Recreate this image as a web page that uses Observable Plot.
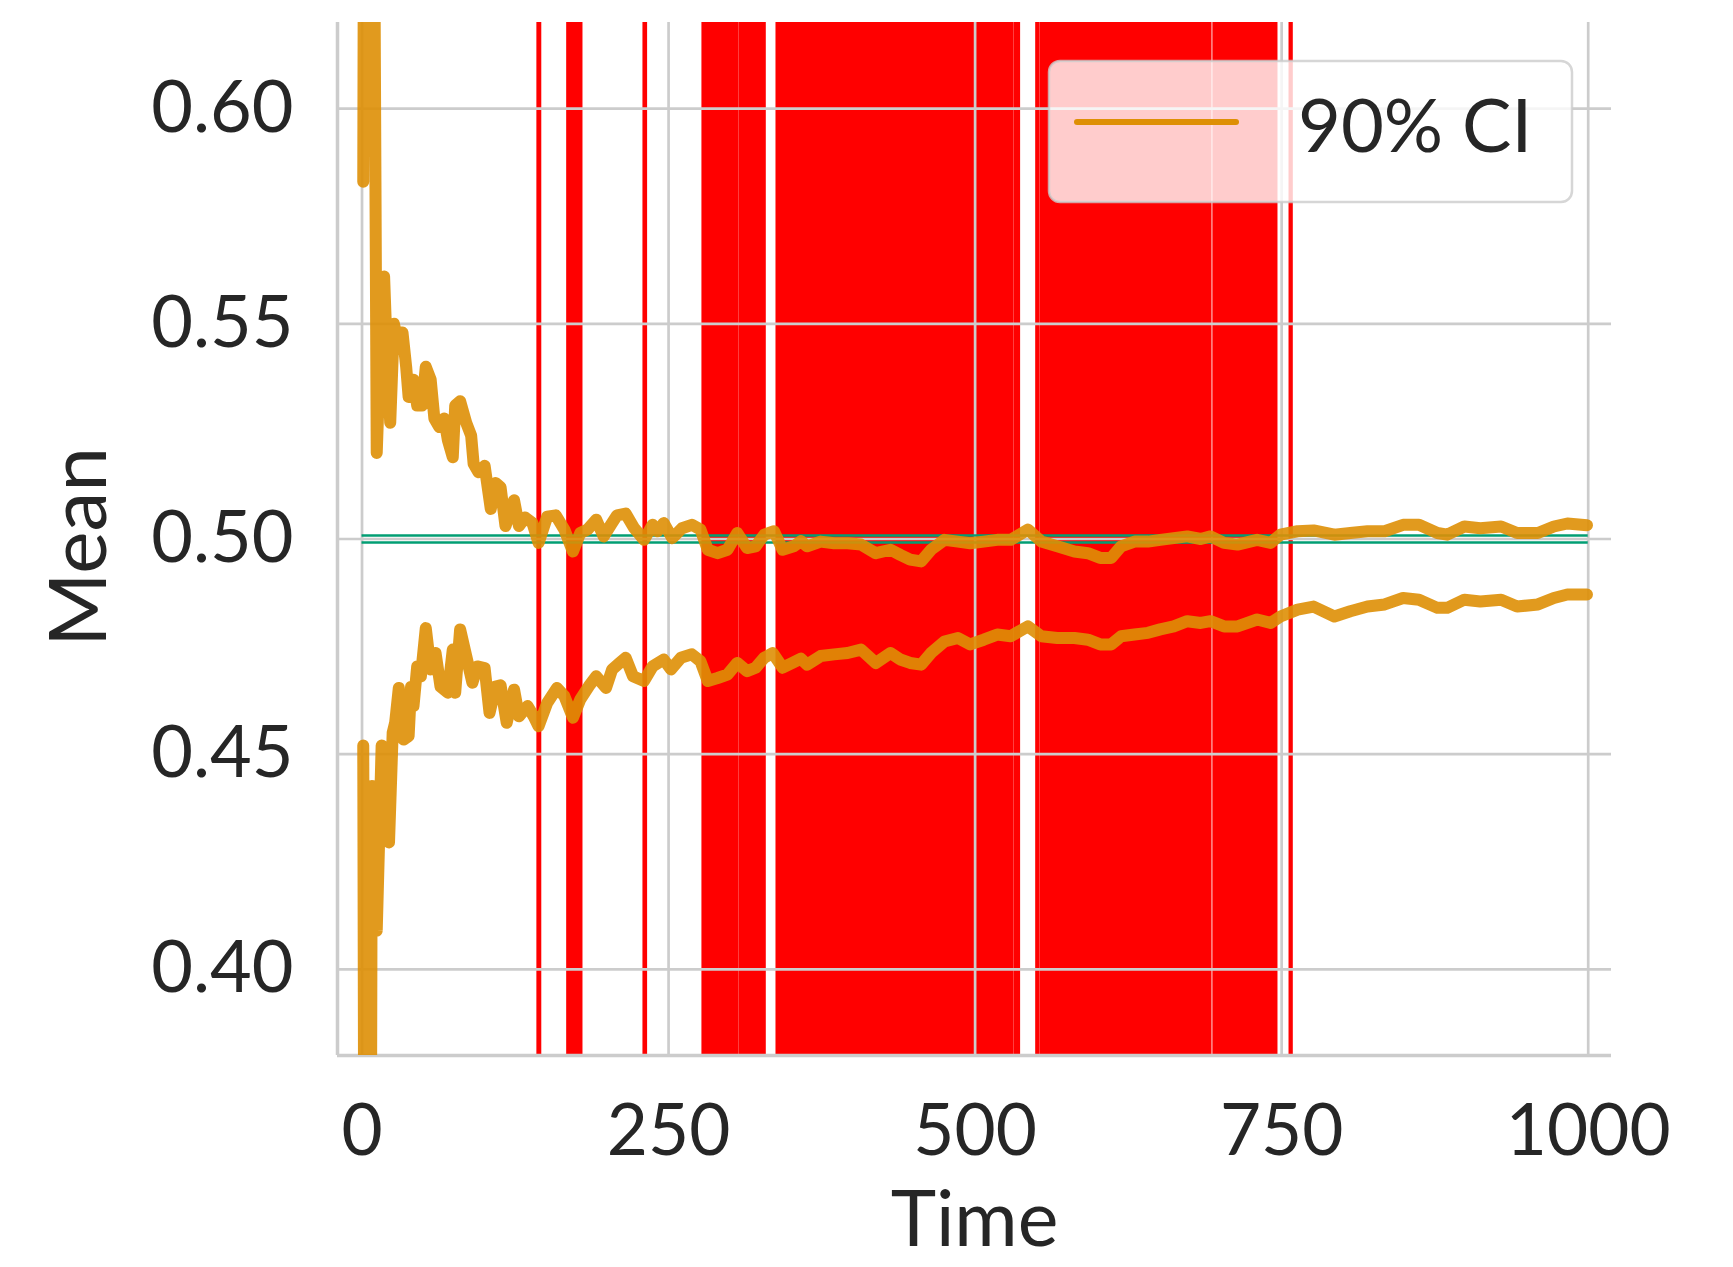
<!DOCTYPE html>
<html>
<head>
<meta charset="utf-8">
<script src="https://cdn.jsdelivr.net/npm/d3@7"></script>
<script src="https://cdn.jsdelivr.net/npm/@observablehq/plot@0.6"></script>
<style>
  html, body { margin: 0; padding: 0; background: #ffffff; }
  #chart { width: 1733px; height: 1267px; }
</style>
</head>
<body>
<div id="chart"></div>
<script>
// Running 90% confidence interval of the mean over time.
const upperTime = [1, 2, 8, 10, 12, 15, 18, 20, 23, 26, 29, 33, 36, 38, 42, 45, 49, 52, 56, 59, 63, 67, 70, 74, 76, 80, 85, 89, 91, 95, 100, 105, 109, 113, 117, 124, 128, 133, 139, 144, 151, 158, 165, 172, 178, 184, 191, 197, 203, 208, 215, 222, 230, 237, 241, 246, 253, 261, 269, 276, 282, 290, 298, 306, 314, 321, 328, 336, 343, 352, 358, 363, 374, 385, 396, 407, 419, 431, 439, 447, 456, 464, 475, 486, 496, 507, 518, 529, 543, 554, 567, 581, 592, 602, 611, 619, 630, 641, 651, 662, 673, 684, 692, 703, 714, 730, 741, 749, 763, 776, 793, 806, 820, 834, 849, 862, 877, 885, 899, 912, 929, 942, 959, 972, 983, 999];
const upperValue = [0.583, 0.700, 0.690, 0.640, 0.520, 0.545, 0.561, 0.545, 0.527, 0.550, 0.546, 0.548, 0.540, 0.533, 0.537, 0.531, 0.531, 0.540, 0.537, 0.528, 0.526, 0.528, 0.523, 0.519, 0.531, 0.532, 0.527, 0.524, 0.5175, 0.5155, 0.517, 0.507, 0.513, 0.512, 0.503, 0.509, 0.503, 0.505, 0.5037, 0.4991, 0.5052, 0.5055, 0.5022, 0.4971, 0.5014, 0.5022, 0.5045, 0.5006, 0.5033, 0.5055, 0.5059, 0.5025, 0.4998, 0.5033, 0.5018, 0.5037, 0.5002, 0.5025, 0.5033, 0.5022, 0.4975, 0.4967, 0.4975, 0.5014, 0.4979, 0.4983, 0.5010, 0.5018, 0.4975, 0.4983, 0.4995, 0.4983, 0.4994, 0.4990, 0.4990, 0.4987, 0.4967, 0.4975, 0.4963, 0.4952, 0.4948, 0.4975, 0.4998, 0.4994, 0.4990, 0.4994, 0.4998, 0.4998, 0.5022, 0.4994, 0.4983, 0.4971, 0.4967, 0.4956, 0.4956, 0.4983, 0.4994, 0.4994, 0.4998, 0.5002, 0.5006, 0.5000, 0.5006, 0.4991, 0.4987, 0.4998, 0.4991, 0.5010, 0.5018, 0.5020, 0.5010, 0.5014, 0.5018, 0.5018, 0.5033, 0.5033, 0.5014, 0.5010, 0.5029, 0.5025, 0.5029, 0.5014, 0.5014, 0.5029, 0.5036, 0.5032];

const lowerTime = [1, 2, 7, 8, 10, 12, 16, 18, 22, 25, 27, 30, 34, 38, 40, 42, 45, 48, 52, 56, 60, 64, 70, 74, 76, 80, 85, 90, 94, 100, 104, 109, 113, 118, 124, 128, 135, 140, 144, 151, 159, 165, 172, 178, 185, 191, 199, 204, 210, 215, 221, 230, 237, 246, 252, 260, 269, 276, 282, 290, 298, 306, 314, 321, 328, 335, 343, 351, 358, 363, 374, 385, 396, 407, 419, 431, 439, 447, 456, 464, 475, 486, 496, 507, 518, 529, 543, 554, 567, 581, 592, 602, 611, 619, 630, 641, 651, 662, 673, 684, 692, 703, 714, 730, 741, 749, 763, 776, 793, 806, 820, 834, 849, 862, 877, 885, 899, 912, 929, 942, 959, 972, 983, 999];
const lowerValue = [0.452, 0.330, 0.330, 0.4426, 0.440, 0.409, 0.452, 0.447, 0.4295, 0.455, 0.4573, 0.4654, 0.4534, 0.4542, 0.4657, 0.4612, 0.4704, 0.4681, 0.4793, 0.4697, 0.4735, 0.4657, 0.4643, 0.4743, 0.4643, 0.4790, 0.4728, 0.4666, 0.4704, 0.4700, 0.4596, 0.4657, 0.4660, 0.4573, 0.4650, 0.4588, 0.4612, 0.4588, 0.4565, 0.4619, 0.4654, 0.4635, 0.4585, 0.4627, 0.4658, 0.4681, 0.4654, 0.4697, 0.4712, 0.4724, 0.4681, 0.4670, 0.4704, 0.4720, 0.4697, 0.4724, 0.4732, 0.4716, 0.4670, 0.4677, 0.4685, 0.4712, 0.4693, 0.4701, 0.4724, 0.4735, 0.4701, 0.4712, 0.4722, 0.4708, 0.4728, 0.4732, 0.4735, 0.4743, 0.4712, 0.4735, 0.4720, 0.4712, 0.4708, 0.4735, 0.4762, 0.4770, 0.4755, 0.4766, 0.4778, 0.4774, 0.4797, 0.4774, 0.4770, 0.4770, 0.4766, 0.4755, 0.4755, 0.4774, 0.4778, 0.4782, 0.4790, 0.4797, 0.4809, 0.4805, 0.4809, 0.4797, 0.4797, 0.4813, 0.4805, 0.4820, 0.4836, 0.4843, 0.4820, 0.4832, 0.4843, 0.4848, 0.4863, 0.4859, 0.4840, 0.4840, 0.4859, 0.4855, 0.4859, 0.4843, 0.4848, 0.4863, 0.4871, 0.4871];

// Reference band around the true mean
const truthLevels = [0.5008, 0.4992];

// Time intervals where the interval misses the true mean
const missStart = [142.6, 166.9, 229.1, 277.2, 307.4, 337.6, 531.7, 549.4, 552.9, 693.9, 756.0];
const missEnd   = [146.6, 180.2, 232.9, 307.4, 329.7, 531.7, 537.1, 552.9, 693.2, 747.0, 759.5];

const xTicks = [0, 250, 500, 750, 1000];
const yTicks = [0.40, 0.45, 0.50, 0.55, 0.60];
const xDomain = [-20, 1019];
const yDomain = [0.38, 0.62];
const legendLabel = "90% CI";

const upper = upperTime.map((t, i) => ({t, v: upperValue[i]}));
const lower = lowerTime.map((t, i) => ({t, v: lowerValue[i]}));
const misses = missStart.map((s, i) => ({start: s, end: missEnd[i]}));

const ORANGE = "#de8f05";
const GREEN = "#029e73";
const GRID = "#cccccc";
const INK = "#262626";

// Legend box drawn in the upper right corner of the frame
function legend(index, scales, values, dims) {
  const g = d3.create("svg:g");
  const w = 523, h = 141;
  const x0 = dims.width - dims.marginRight - 39 - w;
  const y0 = dims.marginTop + 39;
  g.append("rect")
    .attr("x", x0).attr("y", y0).attr("width", w).attr("height", h).attr("rx", 11)
    .attr("fill", "#ffffff").attr("fill-opacity", 0.8)
    .attr("stroke", GRID).attr("stroke-opacity", 0.8).attr("stroke-width", 2.5);
  g.append("line")
    .attr("x1", x0 + 28).attr("x2", x0 + 187)
    .attr("y1", y0 + 61).attr("y2", y0 + 61)
    .attr("stroke", ORANGE).attr("stroke-width", 6).attr("stroke-linecap", "round");
  g.append("text")
    .attr("x", x0 + 249).attr("y", y0 + 91)
    .attr("text-anchor", "start")
    .attr("font-size", 74).attr("fill", INK)
    .text(legendLabel);
  return g.node();
}

const lineStyle = {x: "t", y: "v", stroke: ORANGE, strokeOpacity: 0.9, strokeWidth: 12, strokeLinecap: "round", strokeLinejoin: "round", clip: true};

const chart = Plot.plot({
  width: 1733,
  height: 1267,
  marginLeft: 337,
  marginRight: 122,
  marginTop: 22,
  marginBottom: 212,
  style: {fontFamily: "Lato, 'Open Sans', sans-serif", fontSize: "72px", color: INK, background: "#ffffff"},
  x: {domain: xDomain},
  y: {domain: yDomain},
  marks: [
    Plot.rect(misses, {x1: "start", x2: "end", y1: () => yDomain[0], y2: () => yDomain[1], fill: "#ff0000", inset: 0}),
    Plot.gridX(xTicks, {stroke: GRID, strokeOpacity: 1, strokeWidth: 2.7}),
    Plot.gridY(yTicks, {stroke: GRID, strokeOpacity: 1, strokeWidth: 2.7}),
    Plot.ruleX([xDomain[0]], {stroke: GRID, strokeWidth: 3.5}),
    Plot.ruleY([yDomain[0]], {stroke: GRID, strokeWidth: 3.5}),
    Plot.ruleY(truthLevels, {y: d => d, x1: 0, x2: 1000, stroke: GREEN, strokeWidth: 2.5}),
    Plot.line(upper, lineStyle),
    Plot.line(lower, lineStyle),
    Plot.axisX(xTicks, {tickSize: 0, tickPadding: 49, fontSize: 71, tickFormat: d3.format("d"), label: null, fill: INK}),
    Plot.axisY(yTicks, {tickSize: 0, tickPadding: 44, fontSize: 72, tickFormat: d3.format(".2f"), label: null, fill: INK}),
    Plot.text(["Mean"], {frameAnchor: "left", textAnchor: "middle", dx: -257, dy: 8, rotate: -90, fontSize: 80, fill: INK}),
    Plot.text(["Time"], {frameAnchor: "bottom", textAnchor: "middle", dy: 190, fontSize: 77, fill: INK}),
    legend
  ]
});

document.getElementById("chart").appendChild(chart);
</script>
</body>
</html>
